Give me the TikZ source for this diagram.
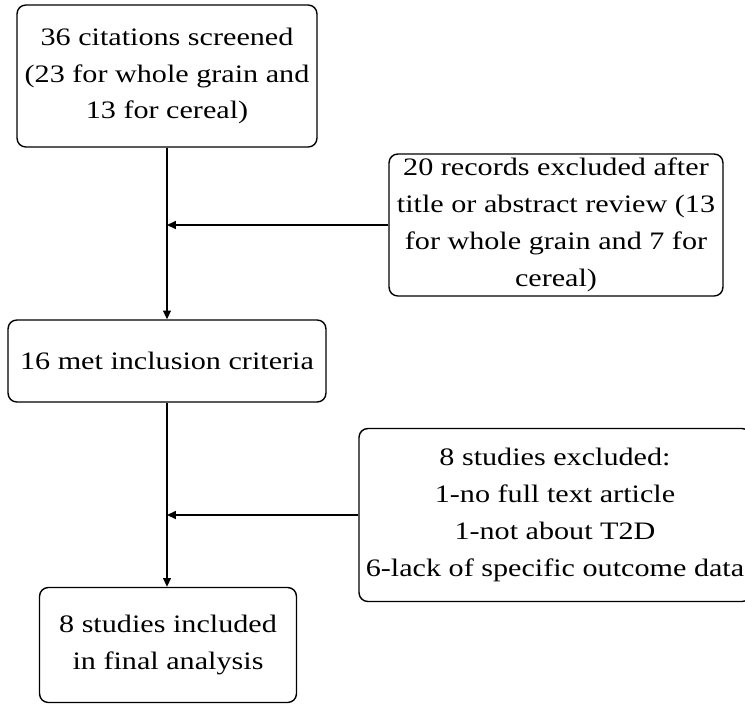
\documentclass[tikz,border=0pt]{standalone}
\usepackage{fontspec}
\setmainfont[FakeStretch=1.2]{Liberation Serif}
\usetikzlibrary{arrows.meta}

\tikzset{
  flowbox/.style={draw, rounded corners=5pt, line width=0.8pt, align=center, inner sep=0pt},
  flowline/.style={line width=0.8pt, -{Triangle[length=5pt,width=4.5pt]}}
}

\begin{document}
\begin{tikzpicture}[x=0.02cm,y=-0.02cm,font=\fontsize{14.3}{21}\selectfont]
    \useasboundingbox (0,0) rectangle (745,704);
    \clip (0,0) rectangle (745,704);

    % boxes
    \node[flowbox, minimum width=6cm, minimum height=2.84cm] (screened) at (167,76)
        {36 citations screened\\(23 for whole grain and\\13 for cereal)};
    \node[flowbox, minimum width=6.68cm, minimum height=2.84cm] (excluded) at (556,225)
        {20 records excluded after\\title or abstract review (13\\for whole grain and 7 for\\cereal)};
    \node[flowbox, minimum width=6.36cm, minimum height=1.64cm] (criteria) at (167,361)
        {16 met inclusion criteria};
    \node[flowbox, minimum width=7.84cm, minimum height=3.46cm] (studies) at (555,515)
        {8 studies excluded:\\1-no full text article\\1-not about T2D\\6-lack of specific outcome data};
    \node[flowbox, minimum width=5.14cm, minimum height=2.3cm] (included) at (168,645)
        {8 studies included\\in final analysis};

    % junctions on the main line
    \coordinate (join1) at (screened.south |- excluded.west);
    \coordinate (join2) at (criteria.south |- studies.west);

    \draw[flowline] (screened.south) -- (screened.south |- criteria.north);
    \draw[flowline] (excluded.west) -- (join1);
    \draw[flowline] (criteria.south) -- (criteria.south |- included.north);
    \draw[flowline] (studies.west) -- (join2);
\end{tikzpicture}
\end{document}
